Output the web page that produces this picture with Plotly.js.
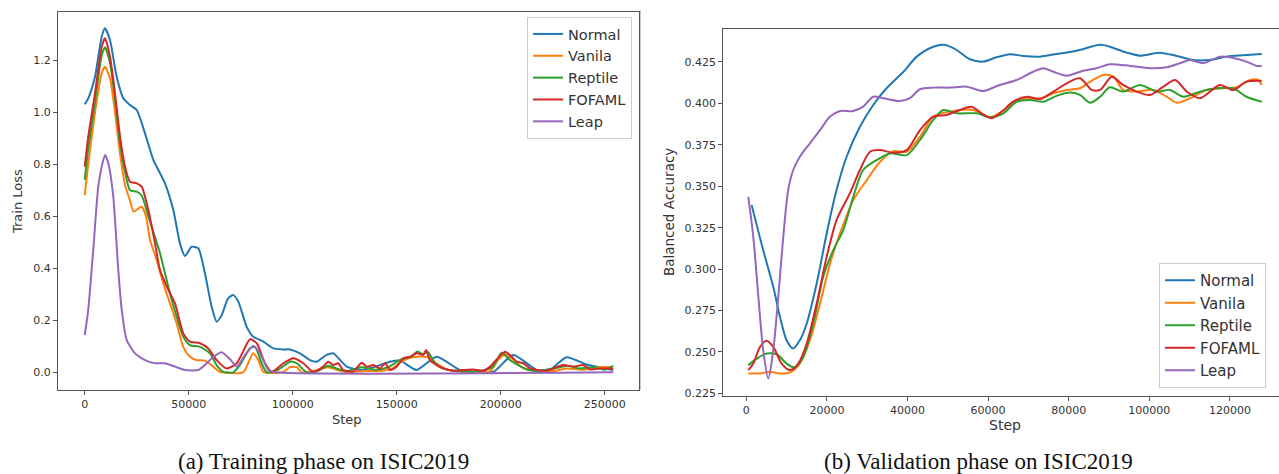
<!DOCTYPE html>
<html><head><meta charset="utf-8">
<script src="https://cdn.plot.ly/plotly-3.0.1.min.js"></script>
<style>html,body{margin:0;padding:0;background:#fff}#chart{width:1279px;height:474px}</style>
</head><body><div id="chart"></div>
<script>
// ---------- (a) Training phase: Train Loss vs Step ----------
const normalStepL = [0,1700,4950,8170,9760,12160,15380,18560,21780,25000,29000,33000,38600,42600,45800,48200,51400,54600,57800,61050,63450,65850,69000,71450,73850,77900,81050,85900,90700,95500,98700,103500,108300,111500,116300,119500,126000,132400,139000,146800,151600,159600,169200,180400,188000,196500,206100,217300,224000,231700,241300,254100];
const normalL = [1.031,1.054,1.137,1.291,1.323,1.278,1.137,1.054,1.028,1.009,0.919,0.817,0.727,0.624,0.496,0.447,0.483,0.477,0.381,0.252,0.195,0.220,0.285,0.297,0.272,0.175,0.137,0.118,0.092,0.088,0.088,0.073,0.047,0.041,0.067,0.073,0.022,0.009,0.020,0.041,0.045,0.009,0.060,0.009,0.002,0.002,0.067,0.009,0.012,0.058,0.030,0.009];

const vanilaStepL = [0,1700,4950,8170,9760,12160,14570,17000,19400,21780,23500,25800,27400,29500,31400,34600,37800,41000,44200,47400,50600,53800,57800,61800,65000,76200,78600,81000,83500,85900,95000,98700,101900,104500,110000,117000,121000,126000,135000,142000,148000,152000,156000,160000,163000,166000,169000,175000,185000,195000,199000,202500,206000,210000,215000,225000,232000,240000,247000,254100];
const vanilaL = [0.682,0.80,1.00,1.15,1.175,1.13,1.00,0.84,0.72,0.66,0.618,0.63,0.637,0.60,0.509,0.432,0.342,0.265,0.188,0.098,0.060,0.047,0.045,0.022,0.002,0.0,0.035,0.073,0.047,0.002,0.0,0.02,0.02,0.0,0.005,0.02,0.01,0.0,0.005,0.005,0.015,0.04,0.055,0.06,0.06,0.055,0.035,0.01,0.0,0.005,0.05,0.07,0.05,0.02,0.01,0.005,0.015,0.01,0.02,0.02];

const reptileStepL = [0,1700,4950,8170,9760,12160,14570,17000,19400,21780,25000,27400,30600,33800,36200,41000,44200,47400,50600,55400,60200,63450,66600,71400,74600,79500,81900,85100,87500,93000,98700,101900,106700,112000,117000,121000,126000,133000,140000,146000,152000,157000,160000,162500,165000,168000,172000,180000,190000,196000,200500,204000,208000,213000,218000,226000,232000,238000,244000,250000,254100];
const reptileL = [0.740,0.86,1.04,1.22,1.25,1.19,1.05,0.88,0.77,0.70,0.695,0.68,0.60,0.52,0.458,0.304,0.214,0.137,0.105,0.098,0.073,0.028,0.002,0.0,0.028,0.092,0.098,0.035,0.0,0.01,0.041,0.035,0.0,0.005,0.025,0.015,0.005,0.02,0.01,0.02,0.05,0.06,0.08,0.07,0.078,0.04,0.015,0.005,0.005,0.02,0.075,0.05,0.03,0.01,0.005,0.015,0.025,0.015,0.02,0.01,0.025];

const fofamlStepL = [0,1700,4950,8170,9760,12160,14570,17000,19400,21780,25000,27400,30600,33800,36200,40200,43400,47400,50600,55400,59400,63450,68250,73100,79500,82700,86700,89900,95500,100300,105100,109900,114700,117100,119500,121900,124300,129100,133200,135600,138800,142000,144400,146800,150000,153200,156400,159600,162800,164100,166000,169200,172400,177200,182000,186800,191600,194900,198100,202100,205300,207700,210900,214100,217400,222200,225300,230100,235000,239800,243000,247800,252600,254100];
const fofamlL = [0.791,0.906,1.073,1.252,1.285,1.214,1.073,0.906,0.791,0.733,0.727,0.714,0.624,0.496,0.393,0.317,0.265,0.150,0.118,0.112,0.092,0.047,0.015,0.035,0.127,0.112,0.035,0.002,0.035,0.054,0.035,0.002,0.022,0.041,0.028,0.035,0.009,0.003,0.037,0.022,0.028,0.015,0.035,0.009,0.022,0.054,0.060,0.073,0.067,0.086,0.047,0.028,0.015,0.006,0.009,0.011,0.006,0.022,0.050,0.079,0.060,0.041,0.035,0.015,0.009,0.006,0.015,0.028,0.022,0.028,0.011,0.015,0.015,0.011];

const leapStepL = [0,1700,4100,6500,8170,9760,11350,13750,16150,17800,20200,24200,29000,33800,38600,43400,48200,54600,58000,62000,65800,69900,73100,77100,81000,84300,88300,92000,254100];
const leapL = [0.143,0.240,0.470,0.714,0.791,0.836,0.804,0.675,0.393,0.240,0.124,0.073,0.047,0.035,0.035,0.022,0.009,0.009,0.030,0.060,0.077,0.050,0.022,0.067,0.101,0.073,0.009,0.0,0.0];

const xTicksL = [0,50000,100000,150000,200000,250000];
const yTicksL = [0,0.2,0.4,0.6,0.8,1.0,1.2];
const yTickTextL = ['0.0','0.2','0.4','0.6','0.8','1.0','1.2'];

// ---------- (b) Validation phase: Balanced Accuracy vs Step ----------
const normalStepR = [1340,4200,6700,8360,10000,11660,13300,15000,17470,19950,22400,24900,28200,31500,34800,39000,42300,46400,49300,52200,55500,58800,62100,65400,68700,72900,77000,82000,87800,90200,94400,97700,102600,106800,110900,115000,119200,123300,127900];
const normalR = [0.3386,0.3114,0.2893,0.2712,0.2571,0.2521,0.2571,0.2672,0.2913,0.3215,0.3477,0.3678,0.3859,0.3990,0.4091,0.4191,0.4282,0.4342,0.4353,0.4322,0.4266,0.4252,0.4278,0.4297,0.4286,0.4282,0.4298,0.4318,0.4353,0.4342,0.4306,0.4288,0.4306,0.4286,0.4262,0.4262,0.4282,0.4290,0.4298];

const vanilaStepR = [500,3400,5880,8360,10840,13300,15800,18300,20800,23250,26550,29900,33200,36500,39800,43100,46400,50500,56300,60500,64600,67900,72900,76200,79500,82800,85300,88600,91100,93500,96900,101000,104300,106800,110100,114200,118400,121700,125000,127000,127900];
const vanilaR = [0.2370,0.2370,0.2380,0.2370,0.2375,0.2430,0.2571,0.2793,0.3034,0.3215,0.3416,0.3537,0.3648,0.3712,0.3708,0.3799,0.3920,0.3950,0.3960,0.3916,0.3970,0.4025,0.4031,0.4061,0.4081,0.4091,0.4131,0.4171,0.4161,0.4081,0.4071,0.4081,0.4040,0.4004,0.4031,0.4081,0.4091,0.4097,0.4141,0.4141,0.4111];

const reptileStepR = [500,2600,5060,7540,10000,12090,14140,16620,19100,21580,24060,26550,29000,32350,35650,39800,43100,46400,48900,52200,57200,60500,63800,67100,70400,73700,77000,80300,82800,85300,87800,90200,93500,97700,101800,105100,108400,112600,116700,120800,124100,127900];
const reptileR = [0.2420,0.2460,0.2490,0.2486,0.2430,0.2406,0.2470,0.2672,0.2954,0.3114,0.3235,0.3436,0.3598,0.3658,0.3698,0.3688,0.3779,0.3900,0.3960,0.3940,0.3940,0.3916,0.3940,0.4010,0.4020,0.4010,0.4045,0.4065,0.4051,0.4004,0.4040,0.4097,0.4071,0.4111,0.4071,0.4081,0.4040,0.4071,0.4091,0.4091,0.4040,0.4010];

const fofamlStepR = [500,1740,3400,5060,6700,8780,10840,12900,15000,17470,19950,22400,25700,28200,30700,33200,36500,39800,43100,46400,49700,53000,55900,58400,60900,63400,66200,69600,72900,76200,79500,82800,85700,87800,90700,93500,96900,100200,103500,106400,109300,112600,117500,120800,124100,127900];
const fofamlR = [0.2390,0.2430,0.2530,0.2567,0.2530,0.2430,0.2390,0.2430,0.2551,0.2793,0.3074,0.3296,0.3457,0.3598,0.3708,0.3718,0.3702,0.3718,0.3839,0.3920,0.3930,0.3960,0.3980,0.3940,0.3910,0.3950,0.4010,0.4040,0.4025,0.4071,0.4121,0.4152,0.4081,0.4081,0.4161,0.4111,0.4071,0.4051,0.4101,0.4141,0.4071,0.4031,0.4111,0.4081,0.4131,0.4137];

const leapStepR = [500,1740,3000,4200,5460,6700,7940,9180,10400,11660,13300,15800,18300,20800,23250,26550,29000,31500,34000,38100,40600,43100,46400,50500,54700,58800,62900,67100,71200,73700,76200,79500,83600,86900,90200,95200,100200,104300,107600,110100,113400,117500,120000,124100,126600,127900];
const leapR = [0.3436,0.3195,0.2833,0.2511,0.2340,0.2511,0.2833,0.3195,0.3477,0.3598,0.3678,0.3759,0.3839,0.3920,0.3954,0.3954,0.3980,0.4040,0.4031,0.4014,0.4031,0.4085,0.4095,0.4095,0.4101,0.4075,0.4111,0.4141,0.4191,0.4212,0.4191,0.4167,0.4197,0.4212,0.4236,0.4226,0.4212,0.4218,0.4242,0.4262,0.4242,0.4282,0.4278,0.4252,0.4226,0.4226];

const xTicksR = [0,20000,40000,60000,80000,100000,120000];
const yTicksR = [0.225,0.25,0.275,0.3,0.325,0.35,0.375,0.4,0.425];
const yTickTextR = ['0.225','0.250','0.275','0.300','0.325','0.350','0.375','0.400','0.425'];

const seriesNames = ['Normal','Vanila','Reptile','FOFAML','Leap'];
const seriesColors = ['#1f77b4','#ff7f0e','#2ca02c','#d62728','#9467bd'];

const leftX = [normalStepL, vanilaStepL, reptileStepL, fofamlStepL, leapStepL];
const leftY = [normalL, vanilaL, reptileL, fofamlL, leapL];
const rightX = [normalStepR, vanilaStepR, reptileStepR, fofamlStepR, leapStepR];
const rightY = [normalR, vanilaR, reptileR, fofamlR, leapR];

const traces = [];
seriesNames.forEach((n, i) => {
  traces.push({x: leftX[i], y: leftY[i], name: n, type: 'scatter', mode: 'lines',
    xaxis: 'x', yaxis: 'y', legend: 'legend',
    line: {color: seriesColors[i], width: 2, shape: 'spline', smoothing: 0.6}});
});
seriesNames.forEach((n, i) => {
  traces.push({x: rightX[i], y: rightY[i], name: n, type: 'scatter', mode: 'lines',
    xaxis: 'x2', yaxis: 'y2', legend: 'legend2',
    line: {color: seriesColors[i], width: 2, shape: 'spline', smoothing: 0.8}});
});

const tickFont = {family: 'DejaVu Sans', size: 11, color: '#333'};
const axBase = {showline: true, linecolor: '#555', linewidth: 1, ticks: 'outside', ticklen: 4,
  tickcolor: '#555', showgrid: false, zeroline: false, tickfont: tickFont, fixedrange: true};

const layout = {
  width: 1279, height: 474,
  margin: {l: 0, r: 0, t: 0, b: 0},
  paper_bgcolor: '#fff', plot_bgcolor: '#fff',
  font: {family: 'DejaVu Sans', color: '#333'},
  xaxis: Object.assign({}, axBase, {domain: [0.04535, 0.4996], range: [-12840, 266500], anchor: 'y',
    mirror: true, tickvals: xTicksL, ticktext: xTicksL.map(String)}),
  yaxis: Object.assign({}, axBase, {domain: [0.1772, 0.9747], range: [-0.068, 1.386], anchor: 'x',
    mirror: true, tickvals: yTicksL, ticktext: yTickTextL}),
  xaxis2: Object.assign({}, axBase, {domain: [0.5655, 1], range: [-5707, 132180], anchor: 'y2',
    mirror: true, tickvals: xTicksR, ticktext: xTicksR.map(String)}),
  yaxis2: Object.assign({}, axBase, {domain: [0.1652, 0.9382], range: [0.2236, 0.4447], anchor: 'x2',
    mirror: false, tickvals: yTicksR, ticktext: yTickTextR}),
  legend: {x: 527/1279, y: 1 - 17/474, xanchor: 'left', yanchor: 'top',
    bgcolor: 'rgba(255,255,255,0.9)', bordercolor: '#ccc', borderwidth: 1,
    font: {family: 'DejaVu Sans', size: 14.5, color: '#333'}},
  legend2: {x: 1159/1279, y: 1 - 263/474, xanchor: 'left', yanchor: 'top',
    bgcolor: 'rgba(255,255,255,0.9)', bordercolor: '#ccc', borderwidth: 1,
    font: {family: 'DejaVu Sans', size: 15, color: '#333'}},
  shapes: [{type: 'line', xref: 'paper', yref: 'paper', x0: 640.5/1279, x1: 640.5/1279,
    y0: 1 - 390/474, y1: 1 - 10/474, line: {color: '#c8c8c8', width: 1}}],
  annotations: [
    {text: 'Train Loss', xref: 'paper', yref: 'paper', x: 17/1279, y: 1 - 202/474, showarrow: false,
     textangle: -90, xanchor: 'center', yanchor: 'middle', font: {family: 'DejaVu Sans', size: 13, color: '#333'}},
    {text: 'Step', xref: 'paper', yref: 'paper', x: 347/1279, y: 1 - 419/474, showarrow: false,
     xanchor: 'center', yanchor: 'middle', font: {family: 'DejaVu Sans', size: 13, color: '#333'}},
    {text: 'Balanced Accuracy', xref: 'paper', yref: 'paper', x: 669/1279, y: 1 - 212/474, showarrow: false,
     textangle: -90, xanchor: 'center', yanchor: 'middle', font: {family: 'DejaVu Sans', size: 13.5, color: '#333'}},
    {text: 'Step', xref: 'paper', yref: 'paper', x: 1005/1279, y: 1 - 425/474, showarrow: false,
     xanchor: 'center', yanchor: 'middle', font: {family: 'DejaVu Sans', size: 14, color: '#333'}},
    {text: '(a) Training phase on ISIC2019', xref: 'paper', yref: 'paper', x: 324/1279, y: 1 - 461/474, showarrow: false,
     xanchor: 'center', yanchor: 'middle', font: {family: 'Liberation Serif', size: 23, color: '#111'}},
    {text: '(b) Validation phase on ISIC2019', xref: 'paper', yref: 'paper', x: 978/1279, y: 1 - 461/474, showarrow: false,
     xanchor: 'center', yanchor: 'middle', font: {family: 'Liberation Serif', size: 23, color: '#111'}}
  ]
};

Plotly.newPlot('chart', traces, layout, {staticPlot: true, displayModeBar: false});
</script>
</body></html>
